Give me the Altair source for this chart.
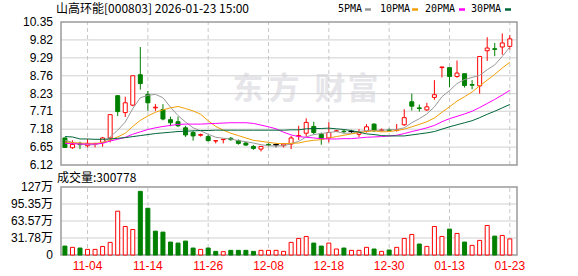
import altair as alt
import pandas as pd

# ---------------- data ----------------
title_text = "山高环能[000803] 2026-01-23 15:00"
last_volume = 300778

opens = [6.92, 6.63, 6.76, 6.69, 6.74, 6.79, 6.92, 8.17, 7.67, 7.89,
         8.79, 8.21, 7.81, 7.76, 7.46, 7.40, 7.22, 7.08, 7.00, 6.96,
         6.83, 6.87, 6.91, 6.84, 6.77, 6.67, 6.59, 6.73, 6.72, 6.69,
         6.74, 6.97, 7.06, 7.26, 7.03, 6.92, 7.12, 7.12, 7.11, 7.03,
         7.11, 7.33, 7.14, 7.16, 7.14, 7.31, 7.99, 7.81, 7.75, 8.12,
         9.00, 9.00, 8.74, 8.82, 8.50, 8.46, 9.50, 9.56, 9.61, 9.63]
highs = [6.93, 6.85, 6.81, 6.89, 6.78, 6.95, 7.61, 8.18, 8.14, 8.76,
         9.61, 8.31, 7.92, 7.92, 7.55, 7.55, 7.28, 7.13, 7.05, 7.01,
         6.84, 6.89, 6.95, 6.88, 6.80, 6.71, 6.67, 6.76, 6.77, 6.76,
         6.98, 7.28, 7.50, 7.40, 7.08, 7.38, 7.16, 7.15, 7.16, 7.18,
         7.33, 7.35, 7.20, 7.20, 7.33, 7.77, 8.23, 7.91, 7.96, 8.63,
         9.02, 9.00, 9.21, 8.82, 8.63, 9.33, 9.90, 9.73, 10.01, 9.96]
lows = [6.63, 6.60, 6.59, 6.64, 6.64, 6.66, 6.79, 7.57, 7.54, 7.86,
        8.35, 7.72, 7.72, 7.44, 7.27, 7.24, 6.95, 6.84, 6.96, 6.82,
        6.76, 6.76, 6.84, 6.72, 6.69, 6.57, 6.52, 6.67, 6.64, 6.64,
        6.59, 6.86, 6.96, 7.03, 6.72, 6.79, 7.10, 7.05, 7.07, 6.95,
        7.08, 7.11, 7.11, 7.11, 7.11, 7.28, 7.73, 7.70, 7.72, 8.05,
        8.71, 8.43, 8.70, 8.41, 8.36, 8.23, 9.20, 9.34, 9.38, 9.54]
closes = [6.64, 6.73, 6.72, 6.76, 6.75, 6.92, 7.61, 7.70, 7.96, 8.76,
          8.53, 7.96, 7.83, 7.48, 7.37, 7.28, 7.01, 6.98, 7.02, 6.84,
          6.84, 6.88, 6.87, 6.76, 6.71, 6.61, 6.67, 6.71, 6.72, 6.74,
          6.92, 6.99, 7.38, 7.08, 6.89, 7.08, 7.13, 7.11, 7.11, 7.10,
          7.25, 7.13, 7.16, 7.14, 7.16, 7.52, 7.86, 7.79, 7.84, 8.20,
          9.02, 8.74, 8.84, 8.47, 8.48, 9.33, 9.58, 9.54, 9.73, 9.85]

vol_wan = [16.7, 14.3, 13.0, 10.5, 10.5, 16.0, 23.6, 81.9, 53.3, 47.7,
           119.0, 87.4, 44.6, 42.8, 24.2, 22.3, 26.0, 13.0, 10.5, 13.0,
           6.8, 6.2, 8.7, 8.7, 8.7, 6.8, 8.7, 8.7, 8.7, 6.8,
           23.6, 31.0, 34.7, 22.3, 16.7, 22.3, 11.2, 13.0, 8.7, 8.7,
           14.3, 11.2, 6.8, 9.3, 14.3, 31.0, 38.4, 20.5, 16.1, 53.3,
           34.7, 48.4, 40.3, 24.2, 18.0, 27.3, 55.2, 35.3, 36.6, 30.08]
vol_dir = ["down", "up", "down", "up", "up", "up", "up", "up", "up", "up",
           "down", "down", "down", "down", "down", "down", "down", "down", "up", "down",
           "down", "up", "down", "down", "down", "down", "up", "up", "up", "up",
           "up", "up", "up", "down", "down", "up", "up", "down", "up", "up",
           "up", "down", "up", "down", "up", "up", "up", "down", "up", "up",
           "up", "down", "up", "down", "up", "up", "up", "down", "up", "up"]

ma5 = [6.85, 6.79, 6.74, 6.72, 6.72, 6.78, 6.95, 7.15, 7.39, 7.79,
       8.11, 8.18, 8.21, 8.11, 7.83, 7.58, 7.39, 7.22, 7.13, 7.03,
       6.94, 6.91, 6.89, 6.84, 6.81, 6.77, 6.72, 6.69, 6.68, 6.69,
       6.75, 6.82, 6.95, 7.02, 7.05, 7.08, 7.11, 7.06, 7.06, 7.11,
       7.14, 7.14, 7.15, 7.16, 7.17, 7.22, 7.37, 7.49, 7.63, 7.84,
       8.14, 8.32, 8.53, 8.65, 8.71, 8.77, 8.94, 9.08, 9.33, 9.61]
ma10 = [6.80, 6.78, 6.77, 6.76, 6.76, 6.78, 6.86, 6.95, 7.06, 7.26,
        7.44, 7.57, 7.68, 7.75, 7.81, 7.85, 7.79, 7.72, 7.62, 7.43,
        7.26, 7.15, 7.06, 6.99, 6.92, 6.85, 6.82, 6.79, 6.76, 6.75,
        6.76, 6.77, 6.82, 6.85, 6.87, 6.92, 6.96, 7.00, 7.04, 7.08,
        7.11, 7.13, 7.10, 7.11, 7.14, 7.18, 7.25, 7.32, 7.40, 7.51,
        7.68, 7.84, 8.01, 8.14, 8.28, 8.46, 8.63, 8.80, 8.99, 9.16]
ma20 = [6.76, 6.75, 6.74, 6.74, 6.74, 6.76, 6.83, 6.88, 6.94, 7.03,
        7.10, 7.17, 7.22, 7.26, 7.29, 7.32, 7.33, 7.33, 7.33, 7.34,
        7.35, 7.36, 7.37, 7.37, 7.37, 7.35, 7.30, 7.25, 7.19, 7.09,
        7.01, 6.96, 6.94, 6.92, 6.90, 6.89, 6.89, 6.90, 6.90, 6.92,
        6.94, 6.95, 6.96, 6.98, 7.00, 7.05, 7.11, 7.16, 7.22, 7.29,
        7.40, 7.49, 7.56, 7.63, 7.71, 7.82, 7.94, 8.06, 8.19, 8.33]
ma30 = [6.96, 6.95, 6.89, 6.89, 6.88, 6.88, 6.89, 6.91, 6.93, 6.96,
        6.99, 7.02, 7.05, 7.07, 7.09, 7.11, 7.12, 7.13, 7.14, 7.14,
        7.15, 7.15, 7.15, 7.15, 7.15, 7.15, 7.15, 7.15, 7.15, 7.15,
        7.16, 7.16, 7.19, 7.20, 7.20, 7.21, 7.19, 7.17, 7.14, 7.09,
        7.04, 7.02, 6.99, 6.98, 6.98, 6.98, 7.01, 7.04, 7.07, 7.11,
        7.18, 7.25, 7.31, 7.37, 7.43, 7.52, 7.62, 7.71, 7.81, 7.91]

tick_idx = [3, 11, 19, 27, 35, 43, 51, 59]
tick_lbl = ["11-04", "11-14", "11-26", "12-08", "12-18", "12-30", "01-13", "01-23"]
price_ticks = [6.12, 6.65, 7.18, 7.71, 8.23, 8.76, 9.29, 9.82, 10.35]
price_lbls = ["6.12", "6.65", "7.18", "7.71", "8.23", "8.76", "9.29", "9.82", "10.35"]
vol_ticks = [0, 317833, 635667, 953500, 1271333]
vol_lbls = ["0", "31.78万", "63.57万", "95.35万", "127万"]
ma_names = ["5PMA", "10PMA", "20PMA", "30PMA"]

# ---------------- styles / layout ----------------
RED, GREEN, BLACK = "#ff0000", "#008000", "#000000"
MA_COLORS = ["#999999", "#f2a007", "#ff00ff", "#00663a"]
GRID, FRAME = "#d0d0d0", "#9a9a9a"
NUMFONT = "Liberation Sans, Noto Sans CJK SC"
CJKFONT = "Noto Sans CJK SC"

W, H = 466, 233
PH, VH = 143, 68
STEP = 7.706
XMIN = -4 / STEP
XMAX = XMIN + W / STEP
P_LO, P_HI = price_ticks[0], price_ticks[-1]
ydom_p = [P_LO - (H - PH) * (P_HI - P_LO) / PH, P_HI]
V_HI = vol_ticks[-1]
ydom_v = [0, V_HI * H / VH]

xs = alt.Scale(domain=[XMIN, XMAX], nice=False, zero=False)
ps = alt.Scale(domain=ydom_p, nice=False, zero=False)
vs = alt.Scale(domain=ydom_v, nice=False, zero=False)


def X(f):
    return alt.X(f, type="quantitative", scale=xs, axis=None)


def YP(f):
    return alt.Y(f, type="quantitative", scale=ps, axis=None)


def YV(f):
    return alt.Y(f, type="quantitative", scale=vs, axis=None)


n = len(closes)
df = pd.DataFrame({"i": list(range(n)), "o": opens, "h": highs, "l": lows, "c": closes,
                   "v": [w * 10000 for w in vol_wan], "v0": [0] * n, "vd": vol_dir})
df.loc[n - 1, "v"] = last_volume
df["d"] = ["up" if c > o else ("down" if c < o else "flat") for o, c in zip(opens, closes)]

layers = []

# watermark
for ch, xx in zip("东方财富", [192, 228, 274, 307]):
    layers.append(alt.Chart(pd.DataFrame({"t": [ch]})).mark_text(
        font=CJKFONT, fontSize=31, fontWeight="bold", color="#e5e5ea",
        align="center", baseline="middle").encode(
        x=alt.value(xx), y=alt.value(68), text="t:N"))

# frames + grids
frame_p = pd.DataFrame({"x0": [XMIN], "x1": [XMAX], "y0": [P_LO], "y1": [P_HI]})
frame_v = pd.DataFrame({"x0": [XMIN], "x1": [XMAX], "y0": [0], "y1": [V_HI]})
hg_p = pd.DataFrame({"y": price_ticks[1:-1], "x0": XMIN, "x1": XMAX})
hg_v = pd.DataFrame({"y": vol_ticks[1:-1], "x0": XMIN, "x1": XMAX})
vg = pd.DataFrame({"i": tick_idx, "p0": P_LO, "p1": P_HI, "v0": 0, "v1": V_HI, "lbl": tick_lbl})

layers.append(alt.Chart(hg_p).mark_rule(color=GRID, strokeWidth=1).encode(
    x=X("x0"), x2="x1", y=YP("y")))
layers.append(alt.Chart(hg_v).mark_rule(color=GRID, strokeWidth=1).encode(
    x=X("x0"), x2="x1", y=YV("y")))
layers.append(alt.Chart(vg).mark_rule(color="#c8c8c8", strokeWidth=1, strokeDash=[4, 3]).encode(
    x=X("i"), y=YP("p0"), y2="p1"))
layers.append(alt.Chart(vg).mark_rule(color="#c8c8c8", strokeWidth=1, strokeDash=[4, 3]).encode(
    x=X("i"), y=YV("v0"), y2="v1"))
layers.append(alt.Chart(frame_p).mark_rect(fill="transparent", stroke=FRAME, strokeWidth=1.5).encode(
    x=X("x0"), x2="x1", y=YP("y0"), y2="y1"))
layers.append(alt.Chart(frame_v).mark_rect(fill="transparent", stroke=FRAME, strokeWidth=1.5).encode(
    x=X("x0"), x2="x1", y=YV("y0"), y2="y1"))

# candles
for d, col, fill in [("up", RED, "#ffffff"), ("down", GREEN, GREEN), ("flat", BLACK, BLACK)]:
    sub = df[df["d"] == d]
    if len(sub) == 0:
        continue
    layers.append(alt.Chart(sub).mark_rule(color=col, strokeWidth=1).encode(
        x=X("i"), y=YP("l"), y2="h"))
    layers.append(alt.Chart(sub).mark_bar(size=4, fill=fill, stroke=col, strokeWidth=1).encode(
        x=X("i"), y=YP("o"), y2="c"))
    if d == "flat":
        layers.append(alt.Chart(sub).mark_rule(color=col, strokeWidth=1, xOffset=-3, x2Offset=3).encode(
            x=X("i"), x2="i", y=YP("c")))

# moving averages
for name, vals, col in zip(ma_names, [ma5, ma10, ma20, ma30], MA_COLORS):
    mdf = pd.DataFrame({"i": list(range(n)), "m": vals})
    layers.append(alt.Chart(mdf).mark_line(color=col, strokeWidth=1).encode(
        x=X("i"), y=YP("m")))

# volume bars
for d, col, fill in [("up", RED, "#ffffff"), ("down", GREEN, GREEN)]:
    sub = df[df["vd"] == d]
    layers.append(alt.Chart(sub).mark_bar(size=4, fill=fill, stroke=col, strokeWidth=1).encode(
        x=X("i"), y=YV("v"), y2="v0"))

# axis labels
layers.append(alt.Chart(pd.DataFrame({"y": price_ticks, "t": price_lbls})).mark_text(
    font=NUMFONT, fontSize=12, color="#000000", align="right", baseline="middle").encode(
    x=alt.value(-3), y=YP("y"), text="t:N"))
layers.append(alt.Chart(pd.DataFrame({"y": vol_ticks, "t": vol_lbls})).mark_text(
    font=NUMFONT, fontSize=12, color="#000000", align="right", baseline="middle").encode(
    x=alt.value(-3), y=YV("y"), text="t:N"))
layers.append(alt.Chart(vg).mark_text(
    font=NUMFONT, fontSize=12, color=RED, align="center", baseline="middle").encode(
    x=X("i"), y=alt.value(H + 11), text="lbl:N"))

# titles
layers.append(alt.Chart(pd.DataFrame({"t": [title_text]})).mark_text(
    font=CJKFONT, fontSize=12, color="#000000", align="left", baseline="middle").encode(
    x=alt.value(0), y=alt.value(-13), text="t:N"))
layers.append(alt.Chart(pd.DataFrame({"t": ["成交量:" + str(last_volume)]})).mark_text(
    font=CJKFONT, fontSize=12, color="#000000", align="left", baseline="middle").encode(
    x=alt.value(1), y=alt.value(156), text="t:N"))

# legend
leg_text_x = [282, 324, 369, 415]
leg_sw_x = [309, 356, 403, 449]
for name, col, tx, sx in zip(ma_names, MA_COLORS, leg_text_x, leg_sw_x):
    layers.append(alt.Chart(pd.DataFrame({"t": [name]})).mark_text(
        font="DejaVu Sans Mono", fontSize=10, color="#000000", align="left", baseline="middle").encode(
        x=alt.value(tx), y=alt.value(-13), text="t:N"))
    layers.append(alt.Chart(pd.DataFrame({"t": [name]})).mark_rule(color=col, strokeWidth=2.5).encode(
        x=alt.value(sx), x2=alt.value(sx + 6), y=alt.value(-12.5)))

chart = alt.layer(*layers).resolve_scale(y="independent").properties(
    width=W, height=H,
    padding={"left": 56, "top": 22, "right": 56, "bottom": 21},
    autosize=alt.AutoSizeParams(type="none"),
    background="#ffffff",
).configure_view(stroke=None)

chart.save("out.html", embed_options={"renderer": "svg", "actions": False})
